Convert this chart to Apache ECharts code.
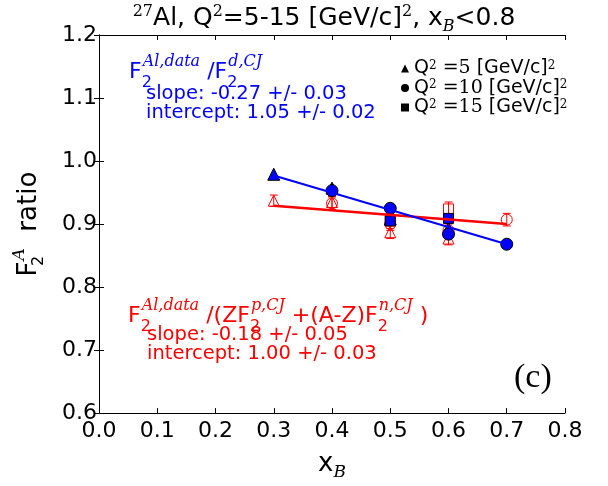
<!DOCTYPE html>
<html>
<head>
<meta charset="utf-8">
<script src="https://cdn.jsdelivr.net/npm/echarts@6/dist/echarts.min.js"></script>
<style>
  html, body { margin: 0; padding: 0; background: #ffffff; }
  #chart { width: 608px; height: 486px; }
</style>
</head>
<body>
<div id="chart"></div>
<script>
// x_B bins and F2 ratios per Q^2 setting
const xTickLabels = ['0.0', '0.1', '0.2', '0.3', '0.4', '0.5', '0.6', '0.7', '0.8'];
const yTickLabels = ['0.6', '0.7', '0.8', '0.9', '1.0', '1.1', '1.2'];

// Q^2 = 5 (GeV/c)^2
const xQ5 = [0.3, 0.4, 0.5, 0.6];
const ratioDQ5 = [0.979, 0.957, 0.908, 0.893];   // F2(Al)/F2(d,CJ)
const ratioNQ5 = [0.937, 0.935, 0.887, 0.877];   // F2(Al)/(Z F2p + (A-Z) F2n)
const errNQ5 = [0.009, 0.009, 0.010, 0.010];

// Q^2 = 10 (GeV/c)^2
const xQ10 = [0.4, 0.5, 0.6, 0.7];
const ratioDQ10 = [0.953, 0.925, 0.884, 0.868];
const ratioNQ10 = [0.933, 0.900, 0.890, 0.907];
const errNQ10 = [0.010, 0.010, 0.010, 0.010];

// Q^2 = 15 (GeV/c)^2
const xQ15 = [0.5, 0.6];
const ratioDQ15 = [0.905, 0.909];
const ratioNQ15 = [0.905, 0.924];
const errNQ15 = [0.012, 0.011];

// linear fits, evaluated at the ends of the fitted range
const fitX = [0.3, 0.7];
const fitDY = [0.977, 0.868];
const fitNY = [0.929, 0.900];

const BLUE = '#0000ff';
const RED = '#ff0000';
const SANS = 'DejaVu Sans';
const SERIF = 'DejaVu Serif';

const pairs = (xs, ys) => xs.map((x, i) => [x, ys[i]]);
const bars = (xs, ys, es) => xs.map((x, i) => [x, ys[i] - es[i], ys[i] + es[i]]);

// rich-text styles with raised / lowered script tokens; `base` is the
// baseline offset from the top of the text block
function richFor(size, color, supSize, raise, drop) {
  const L = 2 * size;
  const base = L / 2 + 0.35 * size;
  const supCenter = base - raise - 0.35 * supSize;
  const subCenter = base + drop - 0.35 * supSize;
  const p = Math.max(0, supCenter - supSize / 2);
  const q = Math.max(0, L - supSize / 2 - subCenter);
  const sup = { fontSize: supSize, verticalAlign: 'top', padding: [p, 0, 0, 0], fill: color };
  const sub = { fontSize: supSize, verticalAlign: 'bottom', padding: [0, 0, q, 0], fill: color };
  return {
    base: base,
    style: {
      fontFamily: SANS, fontSize: size, lineHeight: L, fill: color,
      rich: {
        sup: Object.assign({ fontFamily: SERIF, fontStyle: 'italic' }, sup),
        supn: Object.assign({ fontFamily: SERIF }, sup),
        sub: Object.assign({ fontFamily: SANS }, sub),
        // subscript stacked under the following superscript
        subk: Object.assign({ fontFamily: SANS, width: 1, align: 'left' }, sub),
        subi: Object.assign({ fontFamily: SERIF, fontStyle: 'italic' }, sub),
        m: { fontFamily: SERIF, fontSize: size, lineHeight: L, fill: color }
      }
    }
  };
}

// text element placed by its anchor x and baseline y
function textAt(x, baseline, text, r, align) {
  return {
    type: 'text', x: x, y: baseline - r.base, silent: true,
    style: Object.assign({ text: text, align: align || 'left', verticalAlign: 'top' }, r.style)
  };
}

const rTitle = richFor(25, '#000', 16, 10, 5);
const rFormula = richFor(22, BLUE, 16, 13, 8);
const rFormulaR = richFor(22, RED, 16, 13, 8);
const rStatB = richFor(19.5, BLUE, 12, 8, 5);
const rStatR = richFor(19.5, RED, 12, 8, 5);

const chart = echarts.init(document.getElementById('chart'), null, { renderer: 'canvas' });

const errorBarSeries = (name, data) => ({
  type: 'custom', name: name, data: data, z: 2,
  renderItem: function (params, api) {
    const x = api.value(0);
    const lo = api.coord([x, api.value(1)]);
    const hi = api.coord([x, api.value(2)]);
    const cap = 4;
    const st = { stroke: RED, lineWidth: 1 };
    return {
      type: 'group', children: [
        { type: 'line', shape: { x1: lo[0], y1: lo[1], x2: hi[0], y2: hi[1] }, style: st },
        { type: 'line', shape: { x1: lo[0] - cap, y1: lo[1], x2: lo[0] + cap, y2: lo[1] }, style: st },
        { type: 'line', shape: { x1: hi[0] - cap, y1: hi[1], x2: hi[0] + cap, y2: hi[1] }, style: st }
      ]
    };
  }
});

const openMarkers = (name, symbol, size, data) => ({
  type: 'scatter', name: name, symbol: symbol, symbolSize: size, data: data,
  itemStyle: { color: 'rgba(0,0,0,0)', borderColor: RED, borderWidth: 1, opacity: 1 }
});

const filledMarkers = (name, symbol, size, data) => ({
  type: 'scatter', name: name, symbol: symbol, symbolSize: size, data: data,
  itemStyle: { color: BLUE, borderColor: '#000', borderWidth: 1, opacity: 1 }
});

const axisCommon = {
  type: 'value',
  axisLine: { show: true, lineStyle: { color: '#000', width: 1 } },
  axisTick: { show: true, inside: true, length: 5, lineStyle: { color: '#000' } },
  splitLine: { show: false }
};

const legendRich = {
  sup: { fontFamily: SERIF, fontSize: 12, lineHeight: 8, verticalAlign: 'top' },
  m: { fontFamily: SERIF, fontSize: 19, lineHeight: 18 }
};
const legendLabels = {
  q5: 'Q{sup|2} {m|=5} [GeV/c]{sup|2}',
  q10: 'Q{sup|2} {m|=10} [GeV/c]{sup|2}',
  q15: 'Q{sup|2} {m|=15} [GeV/c]{sup|2}'
};

chart.setOption({
  animation: false,
  backgroundColor: '#ffffff',
  grid: { left: 99, right: 43, top: 35, bottom: 67, containLabel: false },
  xAxis: [
    Object.assign({}, axisCommon, {
      min: 0, max: 0.8, interval: 0.1,
      axisLabel: {
        color: '#000', fontFamily: SANS, fontSize: 22, margin: 7,
        formatter: (v) => xTickLabels[Math.round(v * 10)]
      },
      name: 'x{b|B}', nameLocation: 'middle', nameGap: 30,
      nameTextStyle: {
        color: '#000', fontFamily: SANS, fontSize: 26, lineHeight: 34,
        rich: { b: { fontFamily: SERIF, fontStyle: 'italic', fontSize: 17, lineHeight: 14, verticalAlign: 'bottom' } }
      }
    }),
    Object.assign({}, axisCommon, {
      position: 'top', min: 0, max: 0.8, interval: 0.1,
      axisLabel: { show: false }
    })
  ],
  yAxis: [
    Object.assign({}, axisCommon, {
      min: 0.6, max: 1.2, interval: 0.1,
      axisLabel: {
        color: '#000', fontFamily: SANS, fontSize: 22, margin: 2, padding: [0, 0, 5, 0],
        formatter: (v) => yTickLabels[Math.round((v - 0.6) * 10)]
      },
      name: 'F{s|2}{a|A}  ratio', nameLocation: 'middle', nameRotate: 90, nameGap: 52,
      nameTextStyle: {
        color: '#000', fontFamily: SANS, fontSize: 26, lineHeight: 36,
        rich: {
          s: { fontFamily: SANS, fontSize: 16, lineHeight: 16, verticalAlign: 'bottom', width: 1 },
          a: { fontFamily: SERIF, fontStyle: 'italic', fontSize: 17, lineHeight: 18, verticalAlign: 'top' }
        }
      }
    }),
    Object.assign({}, axisCommon, {
      position: 'right', min: 0.6, max: 1.2, interval: 0.1,
      axisLabel: { show: false }
    })
  ],
  legend: {
    orient: 'vertical', left: 396, top: 54, itemGap: 0.5,
    itemWidth: 8, itemHeight: 8, selectedMode: false,
    data: [
      { name: 'q5', icon: 'triangle', itemStyle: { color: '#000', borderWidth: 0 } },
      { name: 'q10', icon: 'circle', itemStyle: { color: '#000', borderWidth: 0 } },
      { name: 'q15', icon: 'rect', itemStyle: { color: '#000', borderWidth: 0 } }
    ],
    formatter: (name) => legendLabels[name],
    textStyle: { color: '#000', fontFamily: SANS, fontSize: 19, lineHeight: 18, rich: legendRich }
  },
  graphic: [
    textAt(324, 27, '{supn|27}Al, Q{supn|2}=5-15 [GeV/c]{supn|2}, x{subi|B}{m|<}0.8', rTitle, 'center'),
    textAt(129, 80, 'F{subk|2}{sup|Al,data} /F{subk|2}{sup|d,CJ}', rFormula),
    textAt(146, 101, 'slope: -0.27 +/- 0.03', rStatB),
    textAt(146, 120, 'intercept: 1.05 +/- 0.02', rStatB),
    textAt(128, 324, 'F{subk|2}{sup|Al,data} /(ZF{subk|2}{sup|p,CJ} +(A-Z)F{subk|2}{sup|n,CJ} )', rFormulaR),
    textAt(147, 342, 'slope: -0.18 +/- 0.05', rStatR),
    textAt(147, 361, 'intercept: 1.00 +/- 0.03', rStatR),
    {
      type: 'text', x: 514, y: 361, silent: true,
      style: { text: '(c)', fontFamily: 'Liberation Serif', fontSize: 34, fill: '#000', verticalAlign: 'top' }
    }
  ],
  series: [
    errorBarSeries('eN5', bars(xQ5, ratioNQ5, errNQ5)),
    errorBarSeries('eN10', bars(xQ10, ratioNQ10, errNQ10)),
    errorBarSeries('eN15', bars(xQ15, ratioNQ15, errNQ15)),
    openMarkers('r5', 'triangle', 11, pairs(xQ5, ratioNQ5)),
    openMarkers('r10', 'circle', 11, pairs(xQ10, ratioNQ10)),
    openMarkers('r15', 'rect', 10, pairs(xQ15, ratioNQ15)),
    {
      type: 'line', name: 'fitN', data: pairs(fitX, fitNY), symbol: 'none',
      lineStyle: { color: RED, width: 2.4 }
    },
    {
      type: 'line', name: 'fitD', data: pairs(fitX, fitDY), symbol: 'none',
      lineStyle: { color: BLUE, width: 2 }
    },
    filledMarkers('q5', 'triangle', 12, pairs(xQ5, ratioDQ5)),
    filledMarkers('q10', 'circle', 12, pairs(xQ10, ratioDQ10)),
    filledMarkers('q15', 'rect', 10, pairs(xQ15, ratioDQ15))
  ]
});
</script>
</body>
</html>
